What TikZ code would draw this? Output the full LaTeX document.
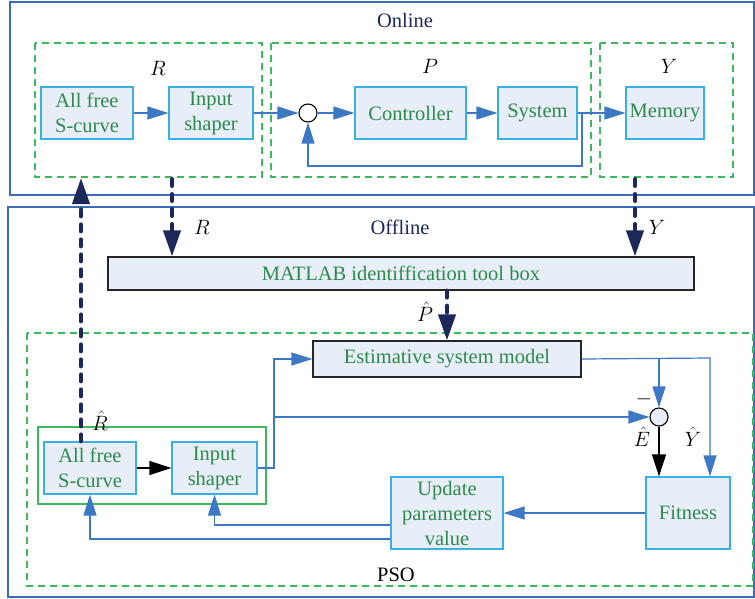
\documentclass[tikz,border=0pt]{standalone}
\usepackage{fontspec}
\setmainfont{Liberation Serif}
\usetikzlibrary{arrows.meta}
\definecolor{bleuCadre}{HTML}{3A6DB5}
\definecolor{bleuTrait}{HTML}{3D78C4}
\definecolor{cyanBord}{HTML}{3AAFE4}
\definecolor{fondBloc}{HTML}{E7EEF7}
\definecolor{vertTexte}{HTML}{2E8A4C}
\definecolor{vertTiret}{HTML}{3CB95C}
\definecolor{marine}{HTML}{1C2859}
\newcommand{\grand}{\fontsize{20.5}{25}\selectfont}

\begin{document}
\begin{tikzpicture}[x=1pt,y=-1pt]
    \tikzstyle{cadreBleu}=[draw=bleuCadre, line width=1.5pt]
    \tikzstyle{cadreVert}=[draw=vertTiret, line width=1.3pt, dash pattern=on 7pt off 5pt]
    \tikzstyle{blocBleu}=[draw=cyanBord, fill=fondBloc, line width=1.2pt, text=vertTexte, align=center, font=\grand, inner sep=0pt]
    \tikzstyle{blocNoir}=[blocBleu, draw=black!85]
    \tikzstyle{somme}=[circle, draw=black, line width=1.1pt, minimum size=18pt, inner sep=0pt]
    \tikzstyle{etiquette}=[font=\grand, inner sep=0pt]
    \tikzstyle{flecheBleue}=[draw=bleuTrait, line width=1.2pt, -{Triangle[length=21pt,width=13pt]}]
    \tikzstyle{flecheNoire}=[draw=black, line width=1.2pt, -{Triangle[length=22pt,width=14pt]}]
    \tikzstyle{flecheMarine}=[draw=marine, line width=4pt, line cap=round, dash pattern=on 7pt off 8pt, -{Triangle[length=26pt,width=17pt]}]

    \useasboundingbox (0,0) rectangle (755,598);

    % outer frames
    \draw [cadreBleu] (10,2) rectangle (754,195);
    \draw [cadreBleu] (8,207) rectangle (754,597);
    \node [etiquette, text=marine] at (405,20) {Online};
    \node [etiquette, text=marine] at (400,227) {Offline};

    % online areas
    \draw [cadreVert] (35,43) rectangle (262,177);
    \draw [cadreVert] (271,43) rectangle (591,177);
    \draw [cadreVert] (600,43) rectangle (733,177);
    \node [etiquette] at (158,68) {$R$};
    \node [etiquette] at (430,66) {$P$};
    \node [etiquette] at (669,66) {$Y$};

    \node (scurveOn) [blocBleu, minimum width=92pt, minimum height=52pt] at (87,113) {All free\\S-curve};
    \node (shaperOn) [blocBleu, minimum width=84pt, minimum height=52pt] at (211,113) {Input\\shaper};
    \node (sommeOn) [somme, fill=white] at (308,113) {};
    \node (controleur) [blocBleu, minimum width=111pt, minimum height=52pt] at (410.5,113) {Controller};
    \node (systeme) [blocBleu, minimum width=79pt, minimum height=52pt] at (537.5,113) {System};
    \node (memoire) [blocBleu, minimum width=78pt, minimum height=52pt] at (665,113) {Memory};
    \coordinate (retour) at (582,166);

    \draw [flecheBleue] (scurveOn) -- (shaperOn);
    \draw [flecheBleue] (shaperOn) -- (sommeOn);
    \draw [flecheBleue] (sommeOn) -- (controleur);
    \draw [flecheBleue] (controleur) -- (systeme);
    \draw [flecheBleue] (systeme) -- (memoire);
    \draw [flecheBleue] (systeme.east) -- (systeme.east -| retour) -- (retour) -| (sommeOn);

    % offline areas
    \draw [cadreVert] (27,333) rectangle (753,586);
    \draw [draw=vertTiret, line width=1.3pt] (38,427) rectangle (266,504);
    \node [etiquette] at (396,575) {PSO};

    \node (matlab) [blocNoir, minimum width=586pt, minimum height=33pt] at (401,273.5) {MATLAB identiffication tool box};
    \node (modele) [blocNoir, minimum width=268pt, minimum height=36pt] at (447,359) {Estimative system model};
    \node (scurveOff) [blocBleu, minimum width=92pt, minimum height=52pt] at (90,468) {All free\\S-curve};
    \node (shaperOff) [blocBleu, minimum width=85pt, minimum height=52pt] at (214.5,468) {Input\\shaper};
    \node (sommeOff) [somme, fill=fondBloc] at (659,417) {};
    \node (fitness) [blocBleu, minimum width=84pt, minimum height=72pt] at (688,513) {Fitness};
    \node (miseAJour) [blocBleu, minimum width=112pt, minimum height=72pt] at (447,513) {Update\\parameters\\value};
    \coordinate (jonction) at (274,417);
    \coordinate (coinY) at (710,358);

    \draw [flecheNoire] (scurveOff) -- (shaperOff);
    \draw [flecheBleue] (shaperOff.east) -| (jonction) |- (modele.west);
    \draw [flecheBleue] (jonction) -- (sommeOff);
    \draw [flecheBleue] (modele.east) -- (coinY) -- (coinY |- fitness.north);
    \draw [flecheBleue] (sommeOff |- modele.east) -- (sommeOff);
    \draw [flecheNoire] (sommeOff) -- (sommeOff |- fitness.north);
    \draw [flecheBleue] (fitness) -- (miseAJour);
    \draw [flecheBleue] ([yshift=-12pt]miseAJour.west) -| (shaperOff.south);
    \draw [flecheBleue] ([yshift=-26pt]miseAJour.west) -| (scurveOff.south);

    \node [etiquette] at (100,421) {$\hat{R}$};
    \node [etiquette] at (644,399) {$-$};
    \node [etiquette] at (642,437) {$\hat{E}$};
    \node [etiquette] at (693,437) {$\hat{Y}$};

    % exchanges online / offline
    \coordinate (sourceR) at (172,179);
    \coordinate (sourceY) at (635,179);
    \coordinate (cibleR) at (81,178);
    \draw [flecheMarine] (sourceR) -- (sourceR |- matlab.north);
    \draw [flecheMarine] (sourceY) -- (sourceY |- matlab.north);
    \draw [flecheMarine] (scurveOff.north -| cibleR) -- (cibleR);
    \draw [flecheMarine] (matlab.south -| modele.north) -- (modele.north);
    \node [etiquette] at (202,227) {$R$};
    \node [etiquette] at (657,227) {$Y$};
    \node [etiquette] at (425,312) {$\hat{P}$};
\end{tikzpicture}
\end{document}
